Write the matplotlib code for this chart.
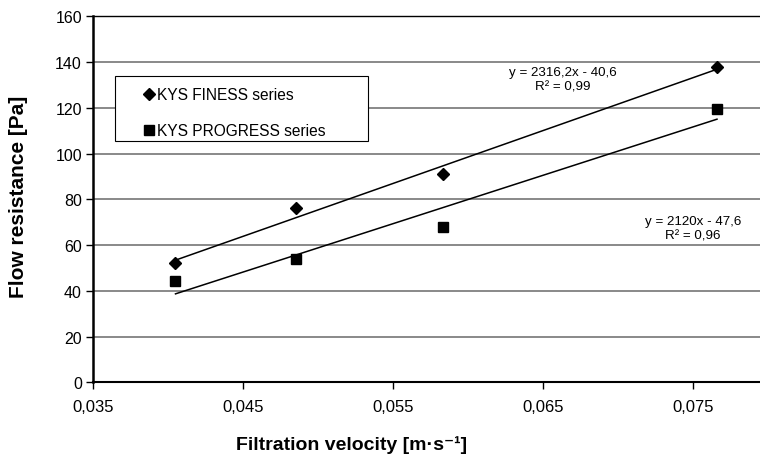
import matplotlib
matplotlib.use("Agg")
import matplotlib.pyplot as plt
import numpy as np
from matplotlib import font_manager
from matplotlib.lines import Line2D
from matplotlib.patches import Rectangle

# ---- data ----
velocity = [0.0405, 0.0485, 0.0583, 0.0766]
finess = [52.0, 76.0, 91.0, 137.7]
progress = [44.2, 53.9, 68.0, 119.5]
series_names = ["KYS FINESS series", "KYS PROGRESS series"]
eq_texts = ["y = 2316,2x - 40,6\nR² = 0,99", "y = 2120x - 47,6\nR² = 0,96"]
x_ticks = [0.035, 0.045, 0.055, 0.065, 0.075]
x_tick_labels = ["0,035", "0,045", "0,055", "0,065", "0,075"]
y_ticks = [0, 20, 40, 60, 80, 100, 120, 140, 160]

names = {f.name for f in font_manager.fontManager.ttflist}
base = "Liberation Sans" if "Liberation Sans" in names else "DejaVu Sans"
narrow = "Liberation Sans Narrow" if "Liberation Sans Narrow" in names else base
plt.rcParams['font.family'] = [base, 'DejaVu Sans']

W, H = 760, 460
fig = plt.figure(figsize=(7.6, 4.6), dpi=100)
ax = fig.add_axes([93/W, 76.7/H, (W-93)/W, (383.3-17.3)/H])

ax.set_xlim(0.035, 0.035 + (W-93)/150*0.01)
ax.set_ylim(0, 160)

for yt in y_ticks[1:]:
    ax.axhline(yt, color="#808080", lw=1.3, zorder=0)

x = np.array(velocity)
for ys, mk, ms in [(finess, "D", 6.2), (progress, "s", 6.5)]:
    ax.plot(velocity, ys, linestyle="none", marker=mk, color="black",
            markersize=ms, zorder=3)
    c = np.polyfit(x, ys, 1)
    xs = np.array([x.min(), x.max()])
    ax.plot(xs, np.polyval(c, xs), color="black", lw=1.1, zorder=2)

fig.text(563/W, 1 - 80/H, eq_texts[0], ha="center", va="center",
         fontsize=9.6, linespacing=1.3)
fig.text(693/W, 1 - 229/H, eq_texts[1], ha="center", va="center",
         fontsize=9.6, linespacing=1.3)

# legend box
box = Rectangle((115/W, 1 - 142/H), (368-115)/W, (142-76.7)/H,
                transform=fig.transFigure, facecolor="white", edgecolor="black",
                lw=0.8, zorder=4)
fig.add_artist(box)
handles = [Line2D([], [], ls="none", marker="D", color="black", markersize=6.2),
           Line2D([], [], ls="none", marker="s", color="black", markersize=6.5)]
leg = fig.legend(handles, series_names, loc="upper left",
                 bbox_to_anchor=(144/W, 1 - 88/H), frameon=False,
                 fontsize=11.2, handlelength=0.6, handletextpad=0.25,
                 borderpad=0, labelspacing=1.35, borderaxespad=0)
leg.set_zorder(6)

ax.set_xticks(x_ticks)
ax.set_xticklabels(x_tick_labels, family=[narrow, 'DejaVu Sans'], fontsize=12)
ax.set_yticks(y_ticks)
ax.set_yticklabels([str(v) for v in y_ticks], fontsize=11.5)
ax.tick_params(axis="both", direction="out", length=5, width=1, color="black")
ax.tick_params(axis="x", pad=7)
ax.tick_params(axis="y", pad=3)

ax.spines["right"].set_visible(False)
ax.spines["top"].set_linewidth(1.0)
ax.spines["left"].set_linewidth(1.8)
ax.spines["bottom"].set_linewidth(1.5)

fig.text(19/W, 1 - 197/H, "Flow resistance [Pa]", rotation=90, ha="center",
         va="center", fontsize=15, fontweight="bold")
fig.text(352/W, 1 - 445/H, "Filtration velocity [m·s⁻¹]",
         ha="center", va="center", fontsize=14, fontweight="bold",
         family=[narrow, 'DejaVu Sans'])

fig.savefig("out.png", dpi=100)
